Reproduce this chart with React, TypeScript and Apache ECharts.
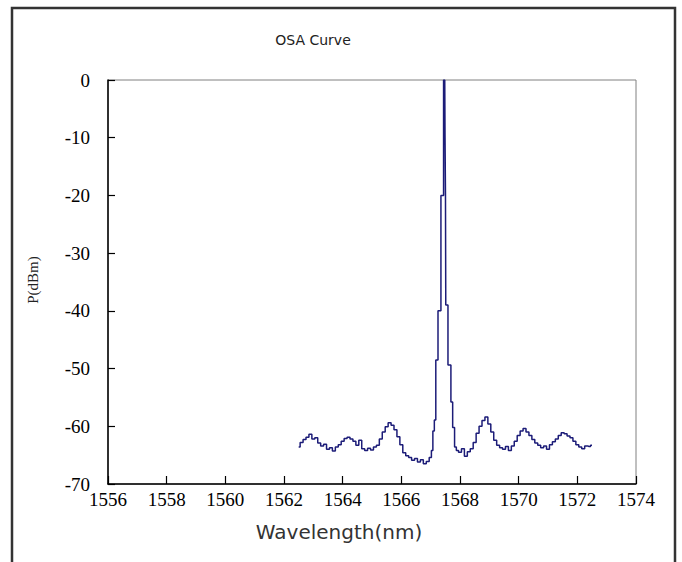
import React, { useEffect, useRef } from "react";
import * as echarts from "echarts";

const xTicks = [1556, 1558, 1560, 1562, 1564, 1566, 1568, 1570, 1572, 1574];
const yTicks = [0, -10, -20, -30, -40, -50, -60, -70];

const wavelength = [
  1562.5, 1562.6, 1562.7, 1562.8, 1562.9, 1563.0, 1563.1, 1563.2, 1563.3, 1563.4,
  1563.5, 1563.6, 1563.7, 1563.8, 1563.9, 1564.0, 1564.1, 1564.2, 1564.3, 1564.4,
  1564.5, 1564.6, 1564.7, 1564.8, 1564.9, 1565.0, 1565.1, 1565.2, 1565.3, 1565.4,
  1565.5, 1565.6, 1565.7, 1565.8, 1565.9, 1566.0, 1566.1, 1566.2, 1566.3, 1566.4,
  1566.5, 1566.6, 1566.7, 1566.8, 1566.9, 1567.0, 1567.05, 1567.1, 1567.15, 1567.2,
  1567.3, 1567.4, 1567.48, 1567.5, 1567.51, 1567.52, 1567.66, 1567.72, 1567.78, 1567.85,
  1567.9, 1568.0, 1568.1, 1568.2, 1568.3, 1568.4, 1568.5, 1568.6, 1568.7, 1568.8,
  1568.9, 1569.0, 1569.1, 1569.2, 1569.3, 1569.4, 1569.5, 1569.6, 1569.7, 1569.8,
  1569.9, 1570.0, 1570.1, 1570.2, 1570.3, 1570.4, 1570.5, 1570.6, 1570.7, 1570.8,
  1570.9, 1571.0, 1571.1, 1571.2, 1571.3, 1571.4, 1571.5, 1571.6, 1571.7, 1571.8,
  1571.9, 1572.0, 1572.1, 1572.2, 1572.3, 1572.4, 1572.5,
];

const power = [
  -63.6, -62.8, -62.3, -61.9, -61.4, -62.2, -62.0, -62.9, -63.4, -63.1,
  -64.0, -63.7, -64.3, -63.6, -63.2, -62.6, -62.1, -61.9, -62.2, -62.6,
  -63.3, -62.4, -63.9, -64.2, -63.8, -64.1, -63.6, -63.3, -62.2, -61.0,
  -60.1, -59.4, -59.8, -60.6, -61.8, -63.2, -64.6, -65.1, -65.4, -65.9,
  -65.6, -66.2, -65.8, -66.5, -66.1, -65.4, -64.2, -60.8, -58.9, -48.5,
  -40.0, -20.0, 0.0, -10.0, -20.0, -39.0, -49.4, -55.8, -60.2, -63.6,
  -64.2, -64.5, -63.9, -65.2, -64.4, -63.9, -62.8, -61.2, -60.0, -59.0,
  -58.4, -59.6, -61.0, -62.4, -63.3, -63.7, -64.0, -63.5, -64.2, -63.4,
  -62.6, -61.6, -60.8, -60.4, -61.0, -61.6, -62.3, -62.9, -63.3, -63.7,
  -63.4, -64.0, -63.2, -62.7, -62.2, -61.6, -61.1, -61.3, -61.7, -62.0,
  -62.6, -63.2, -63.6, -63.9, -63.4, -63.5, -63.3,
];

export default function App() {
  const ref = useRef<HTMLDivElement>(null);
  useEffect(() => {
    if (!ref.current) return;
    const chart = echarts.init(ref.current, null, { renderer: "svg" });
    const data = wavelength.map((w, i) => [w, power[i]]);
    const serif = "'Liberation Serif', 'Times New Roman', serif";
    const sans = "'DejaVu Sans', Arial, sans-serif";
    chart.setOption({
      animation: false,
      backgroundColor: "#ffffff",
      grid: {
        left: 108,
        top: 80,
        right: 46,
        bottom: 78,
        show: true,
        borderColor: "#808080",
        borderWidth: 1,
        backgroundColor: "transparent",
      },
      xAxis: {
        type: "value",
        min: xTicks[0],
        max: xTicks[xTicks.length - 1],
        interval: 2,
        axisLine: { show: true, onZero: false, lineStyle: { color: "#000", width: 1.5 } },
        axisTick: { show: true, inside: true, length: 8, lineStyle: { color: "#000", width: 1.2 } },
        axisLabel: {
          margin: 6,
          color: "#000",
          fontFamily: serif,
          fontSize: 19,
          formatter: (v: number) => String(v),
        },
        splitLine: { show: false },
      },
      yAxis: {
        type: "value",
        min: yTicks[yTicks.length - 1],
        max: yTicks[0],
        interval: 10,
        axisLine: { show: true, onZero: false, lineStyle: { color: "#000", width: 1.5 } },
        axisTick: { show: true, inside: true, length: 7, lineStyle: { color: "#000", width: 1.2 } },
        axisLabel: {
          margin: 18,
          color: "#000",
          fontFamily: serif,
          fontSize: 19,
          formatter: (v: number) => String(v),
        },
        splitLine: { show: false },
      },
      series: [
        {
          type: "line",
          data,
          step: "middle",
          showSymbol: false,
          symbol: "none",
          lineStyle: { color: "#1c1c78", width: 1.5 },
        },
      ],
      graphic: [
        {
          type: "rect",
          shape: { x: 12, y: 8, width: 663, height: 600 },
          style: { fill: "none", stroke: "#333", lineWidth: 2.5 },
          silent: true,
        },
        {
          type: "text",
          x: 313,
          y: 40,
          style: {
            text: "OSA Curve",
            font: `14px ${sans}`,
            fill: "#222",
            textAlign: "center",
            textVerticalAlign: "middle",
          },
        },
        {
          type: "text",
          x: 339,
          y: 532,
          style: {
            text: "Wavelength(nm)",
            font: `20px ${sans}`,
            fill: "#333",
            textAlign: "center",
            textVerticalAlign: "middle",
          },
        },
        {
          type: "text",
          x: 33,
          y: 280,
          rotation: Math.PI / 2,
          style: {
            text: "P(dBm)",
            font: `15px ${serif}`,
            fill: "#222",
            textAlign: "center",
            textVerticalAlign: "middle",
          },
        },
      ],
    });
    return () => chart.dispose();
  }, []);
  return (
    <div
      ref={ref}
      style={{ position: "fixed", left: 0, top: 0, width: 682, height: 562 }}
    />
  );
}
